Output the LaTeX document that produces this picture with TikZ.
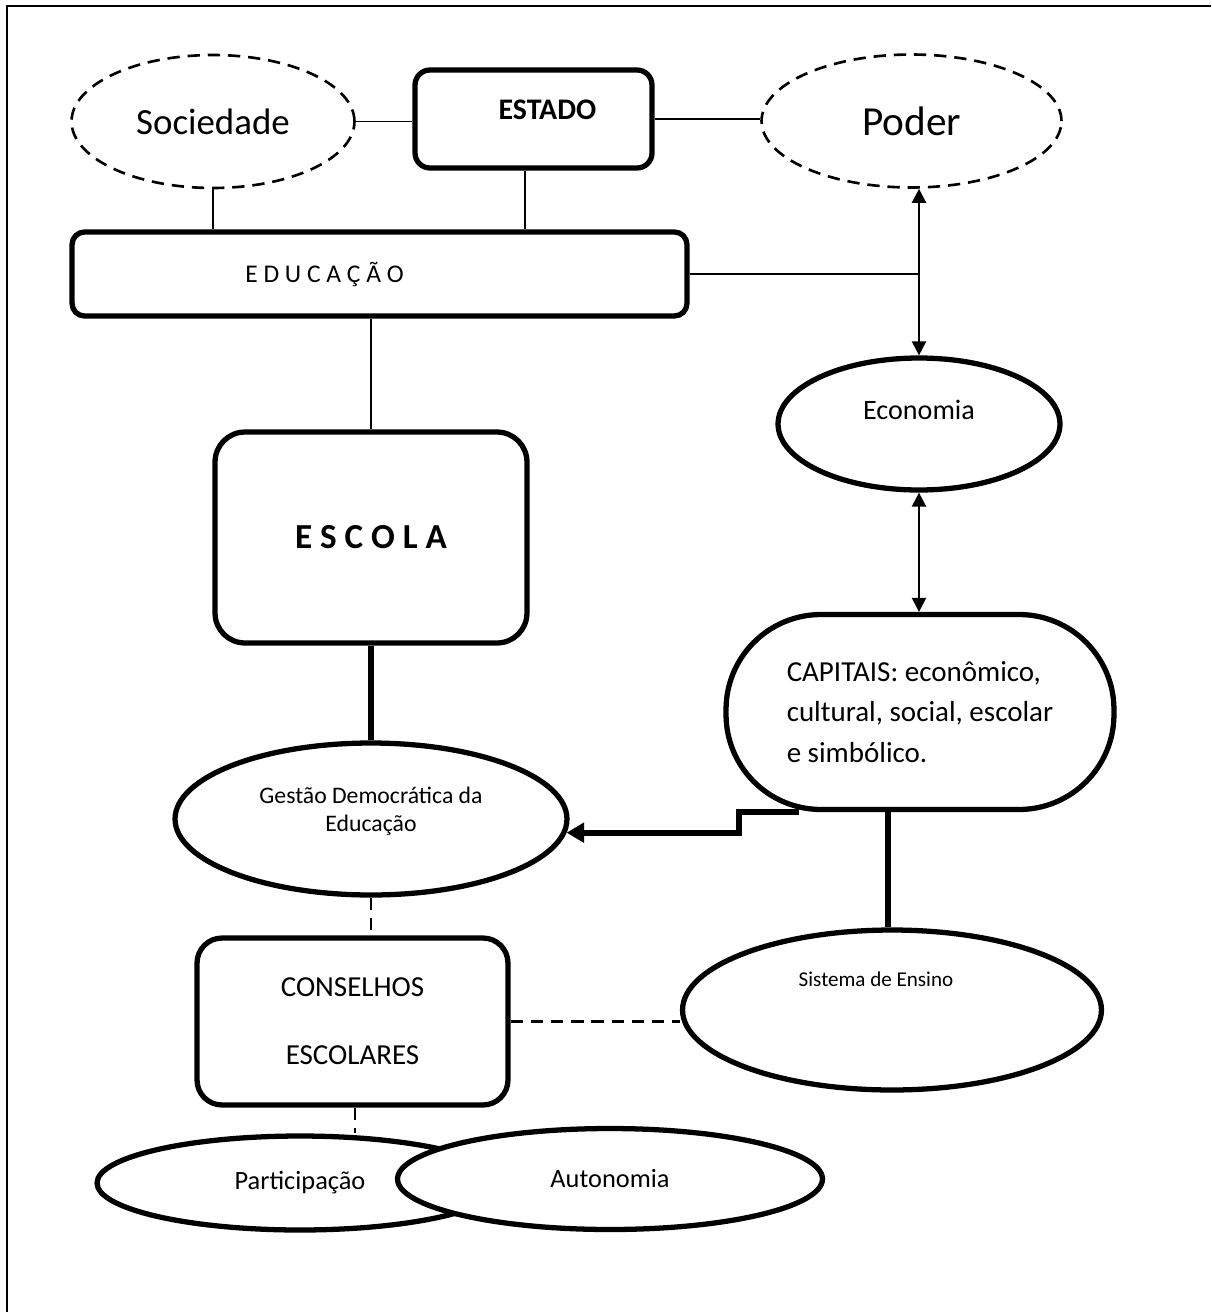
\documentclass[tikz,border=0pt]{standalone}
\usepackage{fontspec}
\setmainfont{Carlito}
\usetikzlibrary{arrows.meta,positioning,shapes.geometric}
\definecolor{MapInk}{HTML}{000000}
\tikzset{
  box/.style={
    rectangle,
    rounded corners=#1,
    draw=MapInk,
    line width=3pt,
    fill=white,
    inner sep=0pt,
    align=center
  },
  box/.default=3mm,
  oval/.style={ellipse,draw=MapInk,line width=3pt,fill=white,inner sep=0pt,align=center},
  dashoval/.style={ellipse,draw=MapInk,line width=1.5pt,dash pattern=on 7pt off 4.5pt,inner sep=0pt},
  link/.style={draw=MapInk,line width=.85pt},
  boldlink/.style={draw=MapInk,line width=3.4pt},
  dashlink/.style={draw=MapInk,line width=1.2pt,dash pattern=on 7pt off 4.5pt},
  twoway/.style={{Triangle[length=8pt,width=8pt]}-{Triangle[length=8pt,width=8pt]},draw=MapInk,line width=1.3pt},
  bigarrow/.style={-{Triangle[length=10pt,width=11pt]},draw=MapInk,line width=3.4pt}
}

\begin{document}
\begin{tikzpicture}[x=0.02cm,y=-0.02cm]
  \useasboundingbox (0,0) rectangle (1211,1312);
  \draw[line width=1.7pt] (7,1312) -- (7,6) -- (1211,6);

  % top row
  \node[dashoval,minimum width=5.66cm,minimum height=2.66cm,font=\fontsize{21}{25}\selectfont] (soc) at (213,121.5) {Sociedade};
  \node[box=3mm,minimum width=4.74cm,minimum height=1.96cm,
    label={[font=\fontsize{17}{20}\selectfont\bfseries,xshift=0.28cm,yshift=0.18cm]center:ESTADO}] (estado) at (533.5,119) {};
  \node[dashoval,minimum width=6.0cm,minimum height=2.66cm,font=\fontsize{23.5}{28}\selectfont] (poder) at (911.5,121) {Poder};
  \node[box=2.5mm,minimum width=12.3cm,minimum height=1.68cm,
    label={[font=\fontsize{14.5}{17}\selectfont,xshift=-1.1cm]center:E D U C A Ç Ã O}] (educ) at (379.5,274) {};

  % left column
  \node[box=6mm,minimum width=6.24cm,minimum height=4.22cm,font=\fontsize{20}{24}\selectfont\bfseries] (escola) at (371,537.5) {E S C O L A};
  \node[oval,minimum width=7.84cm,minimum height=3.04cm,
    label={[font=\fontsize{13.5}{16}\selectfont,align=center,yshift=0.16cm]center:Gestão Democrática da\\Educação}] (gestao) at (371,819) {};
  \node[box=5mm,minimum width=6.22cm,minimum height=3.34cm,font=\fontsize{16.5}{38.5}\selectfont] (cons) at (352.5,1021.5) {CONSELHOS\\ESCOLARES};
  \node[oval,minimum width=8.12cm,minimum height=1.88cm,font=\fontsize{15}{18}\selectfont] (partic) at (300,1183) {Participação};
  \node[oval,minimum width=8.5cm,minimum height=2.02cm,font=\fontsize{15}{18}\selectfont] (auto) at (610,1179) {Autonomia};

  % right column
  \node[oval,minimum width=5.64cm,minimum height=2.64cm,
    label={[font=\fontsize{16}{19}\selectfont,yshift=0.28cm]center:Economia}] (econ) at (919,424) {};
  \node[box=19mm,minimum width=7.76cm,minimum height=3.9cm,align=left,font=\fontsize{16.5}{23.2}\selectfont] (cap) at (920,712)
    {CAPITAIS: econômico,\\cultural, social, escolar\\e simbólico.};
  \node[oval,minimum width=8.38cm,minimum height=3.2cm,
    label={[font=\fontsize{12}{14}\selectfont,xshift=-0.32cm,yshift=0.62cm]center:Sistema de Ensino}] (sis) at (892,1010) {};

  % connectors
  \draw[link] (soc.east) -- (soc.east -| estado.west);
  \draw[link] (estado.east) -- (estado.east -| poder.west);
  \draw[link] (soc.south) -- (soc.south |- educ.north);
  \draw[link] ([xshift=-0.17cm]estado.south) -- ([xshift=-0.17cm]estado.south |- educ.north);
  \draw[link] (educ.east) -- (educ.east -| econ.north);
  \draw[link] (escola.north |- educ.south) -- (escola.north);
  \draw[twoway] (econ.north |- poder.south) -- (econ.north);
  \draw[twoway] (econ.south) -- (econ.south |- cap.north);
  \draw[boldlink] (escola.south) -- (escola.south |- gestao.north);
  \draw[bigarrow] ([xshift=-2.42cm]cap.south) -- ++(-60,0) |- (gestao.-4);
  \draw[boldlink] (sis.north -| 888,0) -- (cap.south -| 888,0);
  \draw[dashlink] (gestao.south) -- (gestao.south |- cons.north);
  \draw[dashlink] (cons.east) -- (cons.east -| sis.west);
  \draw[dashlink] ([xshift=0.05cm]cons.south) -- ([xshift=0.05cm]cons.south |- partic.north);
\end{tikzpicture}
\end{document}
